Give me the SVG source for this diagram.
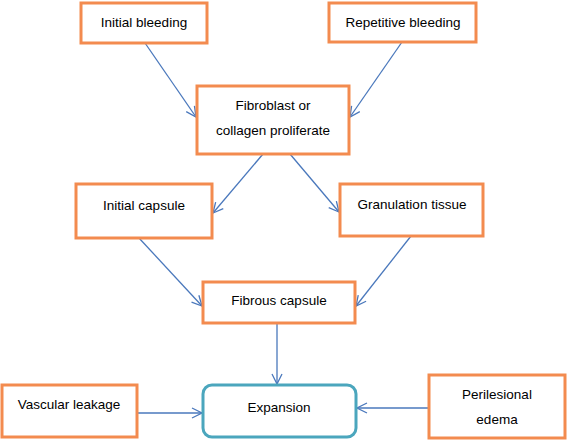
<svg xmlns="http://www.w3.org/2000/svg" width="567" height="440" viewBox="0 0 567 440">
<defs>
<style>
.box{fill:#fff;stroke:#F38B4F;stroke-width:3}
.rbox{fill:#fff;stroke:#4BA6BD;stroke-width:3}
.lbl{font-family:"Liberation Sans",Arial,sans-serif;font-size:13.5px;fill:#000;text-anchor:middle}
.c{stroke:#4A78BC;stroke-width:1.3;fill:none;marker-end:url(#ah)}
</style>
<marker id="ah" viewBox="0 0 12 12" refX="11" refY="6" markerWidth="12" markerHeight="12" markerUnits="userSpaceOnUse" orient="auto">
<path d="M1,1 L11,6 L1,11" fill="none" stroke="#4A78BC" stroke-width="1.3"/>
</marker>
</defs>
<rect width="567" height="440" fill="#fff"/>
<g id="connectors">
<line class="c" x1="145" y1="43" x2="196" y2="117"/>
<line class="c" x1="402" y1="42" x2="350" y2="117"/>
<line class="c" x1="263" y1="154" x2="213" y2="213"/>
<line class="c" x1="290" y1="154" x2="339" y2="212"/>
<line class="c" x1="139" y1="238" x2="202" y2="306"/>
<line class="c" x1="411" y1="236" x2="356" y2="306"/>
<line class="c" x1="277" y1="323" x2="277" y2="384"/>
<line class="c" x1="137" y1="413" x2="202" y2="413"/>
<line class="c" x1="429" y1="408" x2="357" y2="408"/>
</g>
<g id="initial-bleeding">
<rect class="box" x="81" y="3" width="126" height="40"/>
<text class="lbl" x="144" y="27">Initial bleeding</text>
</g>
<g id="repetitive-bleeding">
<rect class="box" x="329" y="3" width="147" height="39"/>
<text class="lbl" x="403" y="27">Repetitive bleeding</text>
</g>
<g id="fibroblast">
<rect class="box" x="197" y="86" width="152" height="68"/>
<text class="lbl" x="273" y="110">Fibroblast or</text>
<text class="lbl" x="273" y="135">collagen proliferate</text>
</g>
<g id="initial-capsule">
<rect class="box" x="76" y="184" width="136" height="54"/>
<text class="lbl" x="144" y="210">Initial capsule</text>
</g>
<g id="granulation-tissue">
<rect class="box" x="340" y="184" width="143" height="52"/>
<text class="lbl" x="412" y="209">Granulation tissue</text>
</g>
<g id="fibrous-capsule">
<rect class="box" x="203" y="282" width="152" height="41"/>
<text class="lbl" x="279" y="305">Fibrous capsule</text>
</g>
<g id="vascular-leakage">
<rect class="box" x="2" y="385" width="135" height="52"/>
<text class="lbl" x="69" y="409">Vascular leakage</text>
</g>
<g id="expansion">
<rect class="rbox" x="203" y="385" width="153" height="52" rx="9"/>
<text class="lbl" x="279" y="412">Expansion</text>
</g>
<g id="perilesional-edema">
<rect class="box" x="429" y="375" width="136" height="63"/>
<text class="lbl" x="497" y="399">Perilesional</text>
<text class="lbl" x="497" y="424">edema</text>
</g>
</svg>
